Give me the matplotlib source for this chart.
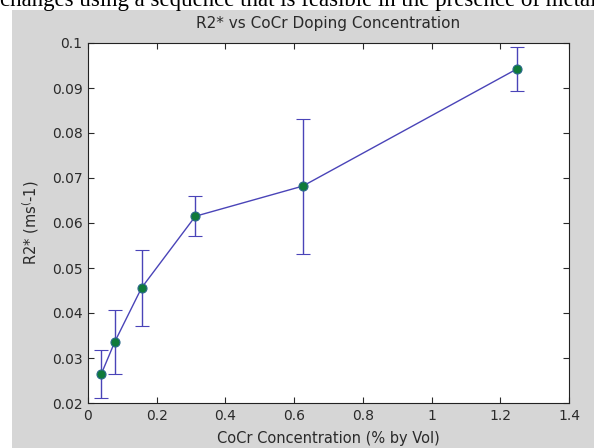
import numpy as np
import matplotlib.pyplot as plt
from matplotlib.patches import Rectangle

plt.rcParams['font.family'] = ['DejaVu Sans']

conc = [0.039, 0.078, 0.156, 0.3125, 0.625, 1.25]
r2star = [0.0265, 0.0336, 0.0456, 0.0615, 0.0682, 0.0943]
err_low = [0.0211, 0.0265, 0.0371, 0.0572, 0.0530, 0.0893]
err_high = [0.0317, 0.0406, 0.0540, 0.0660, 0.0831, 0.0992]

xticks = [0, 0.2, 0.4, 0.6, 0.8, 1, 1.2, 1.4]
xlabels = ['0', '0.2', '0.4', '0.6', '0.8', '1', '1.2', '1.4']
yticks = [0.02, 0.03, 0.04, 0.05, 0.06, 0.07, 0.08, 0.09, 0.1]
ylabels = ['0.02', '0.03', '0.04', '0.05', '0.06', '0.07', '0.08', '0.09', '0.1']

W, H = 594, 448
fig = plt.figure(figsize=(W / 100, H / 100), dpi=100, facecolor='white')

# grey figure area (page crop leaves a white strip on top/left)
fig.patches.append(Rectangle((12 / W, 0), 1, (H - 10) / H, transform=fig.transFigure,
                             facecolor='#d6d6d6', edgecolor='none', zorder=-5))
# clipped line of document text above the figure
fig.text(0.0, 1 - 6 / H, 'changes using a sequence that is feasible in the presence of metal',
         family='Liberation Serif', fontsize=16.5, va='baseline', ha='left', color='black',
         zorder=-4)

ax = fig.add_axes([88 / W, 45 / H, 481 / W, 360 / H])
ax.set_facecolor('white')

y = np.array(r2star)
yerr = [y - np.array(err_low), np.array(err_high) - y]
ax.errorbar(conc, r2star, yerr=yerr, color='#4a44b8', lw=1.0, elinewidth=1.0,
            capsize=5, capthick=1.0, marker='o', markersize=6.5,
            markerfacecolor='#0f7a3a', markeredgecolor='#2a6a8a', markeredgewidth=0.8)

ax.set_xlim(0, 1.4)
ax.set_ylim(0.02, 0.1)
ax.set_xticks(xticks)
ax.set_xticklabels(xlabels)
ax.set_yticks(yticks)
ax.set_yticklabels(ylabels)
ax.tick_params(direction='in', length=4, width=0.8, top=True, right=True,
               labelsize=10, colors='#2a2a2a', pad=4)
for s in ax.spines.values():
    s.set_linewidth(0.8)
    s.set_color('#222222')

ax.set_title('R2* vs CoCr Doping Concentration', fontsize=11, color='#2a2a2a', pad=11)
ax.set_xlabel('CoCr Concentration (% by Vol)', fontsize=10.5, color='#2a2a2a', labelpad=6)
ax.set_ylabel(r'R2* (ms$^{(}$-1)', fontsize=10.5, color='#2a2a2a', labelpad=8)

fig.savefig('out.png', dpi=100, facecolor=fig.get_facecolor())
